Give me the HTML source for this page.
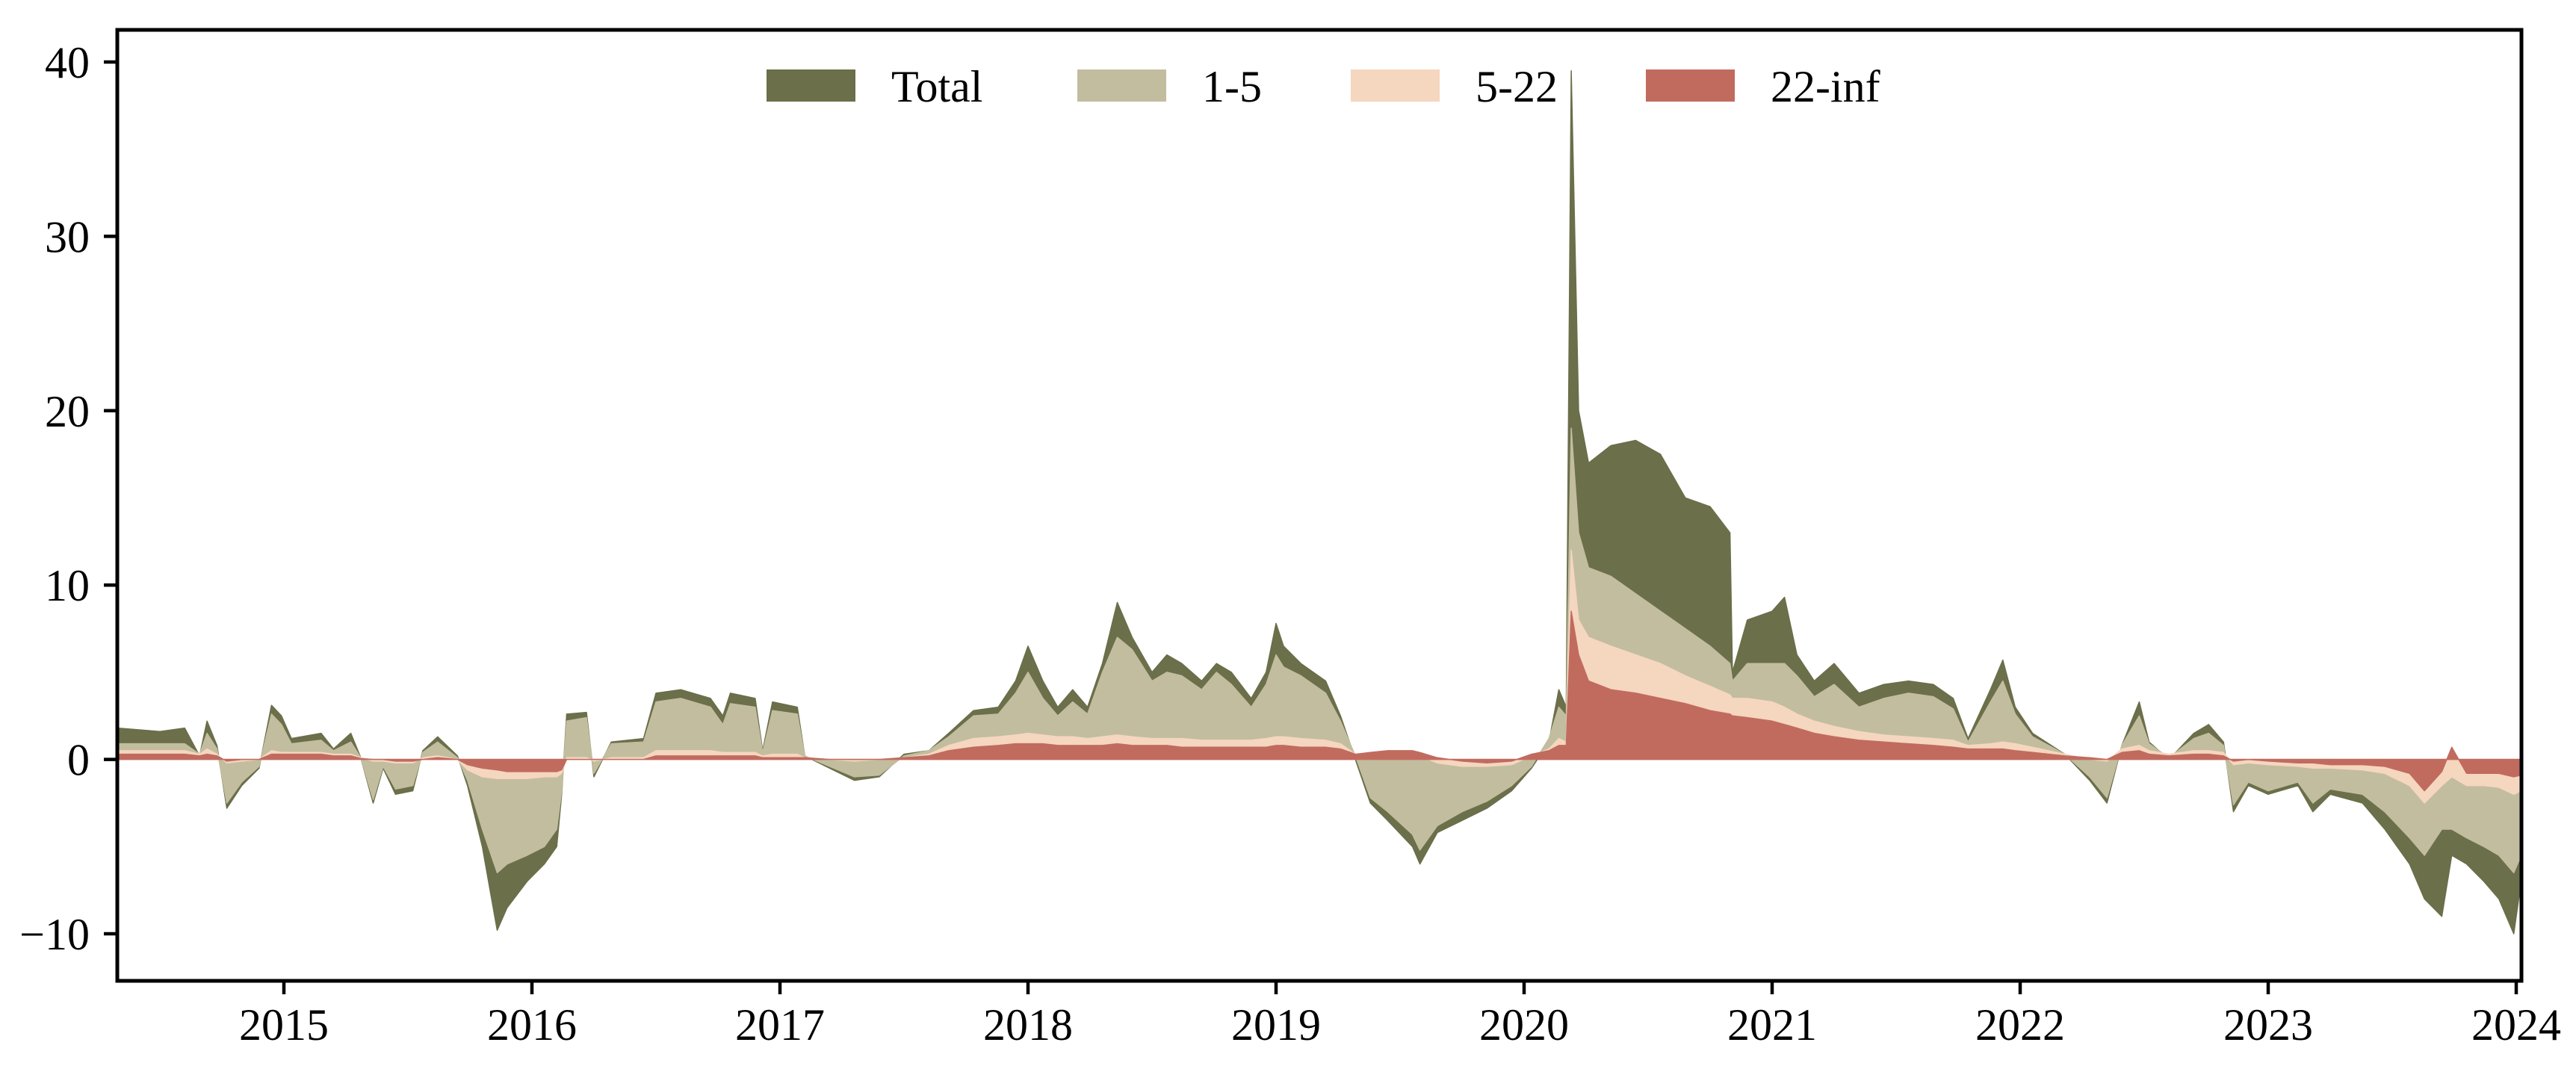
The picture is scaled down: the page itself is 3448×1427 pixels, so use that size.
<!DOCTYPE html>
<html><head><meta charset="utf-8"><style>
html,body{margin:0;padding:0;background:#fff;}
svg{display:block;}
text{font-family:"Liberation Serif",serif;fill:#000;}
</style></head>
<body>
<svg id="chart" width="3448" height="1427" viewBox="0 0 3448 1427" xmlns="http://www.w3.org/2000/svg">
<defs><clipPath id="plotclip"><rect x="157" y="40" width="3218" height="1273"/></clipPath></defs>
<rect x="0" y="0" width="3448" height="1427" fill="#fff"/>
<g id="areas" clip-path="url(#plotclip)"></g>
<g id="axes"></g>
<g id="legend"></g>
</svg>
<script>
const dates = [2014.33,2014.5,2014.6,2014.66,2014.69,2014.73,2014.77,2014.83,2014.9,2014.95,2014.99,2015.03,2015.15,2015.2,2015.27,2015.31,2015.36,2015.4,2015.45,2015.52,2015.56,2015.62,2015.7,2015.74,2015.8,2015.86,2015.9,2015.98,2016.05,2016.1,2016.12,2016.14,2016.22,2016.25,2016.32,2016.45,2016.5,2016.6,2016.72,2016.77,2016.8,2016.9,2016.93,2016.97,2017.07,2017.1,2017.2,2017.3,2017.4,2017.5,2017.6,2017.68,2017.78,2017.88,2017.95,2018.0,2018.06,2018.12,2018.18,2018.24,2018.3,2018.36,2018.42,2018.5,2018.56,2018.62,2018.7,2018.76,2018.82,2018.9,2018.96,2019.0,2019.03,2019.1,2019.2,2019.26,2019.32,2019.38,2019.45,2019.55,2019.58,2019.65,2019.75,2019.85,2019.95,2020.03,2020.1,2020.14,2020.17,2020.19,2020.22,2020.26,2020.35,2020.45,2020.55,2020.65,2020.75,2020.83,2020.84,2020.9,2021.0,2021.05,2021.1,2021.17,2021.25,2021.35,2021.45,2021.55,2021.65,2021.73,2021.79,2021.88,2021.93,2021.98,2022.05,2022.18,2022.28,2022.35,2022.41,2022.48,2022.52,2022.6,2022.7,2022.76,2022.82,2022.86,2022.92,2023.0,2023.12,2023.18,2023.25,2023.38,2023.47,2023.57,2023.63,2023.7,2023.74,2023.8,2023.87,2023.93,2023.99,2024.02];
const total = [1.8,1.6,1.8,0.2,2.2,0.8,-2.8,-1.5,-0.5,3.1,2.5,1.2,1.5,0.6,1.5,0.1,-2.5,-0.5,-2.0,-1.8,0.5,1.3,0.2,-1.5,-5,-9.8,-8.5,-7,-6,-5,-2,2.6,2.7,-1,1.0,1.2,3.8,4.0,3.5,2.5,3.8,3.5,0.5,3.3,3.0,0.2,-0.5,-1.2,-1.0,0.3,0.5,1.5,2.8,3.0,4.5,6.5,4.5,3.0,4.0,3.0,5.5,9.0,7.0,5.0,6.0,5.5,4.5,5.5,5.0,3.5,5.0,7.8,6.5,5.5,4.5,2.5,0,-2.5,-3.5,-5.0,-6,-4.2,-3.5,-2.8,-1.8,-0.5,1.0,4.0,3.0,39.5,20,17,18,18.3,17.5,15,14.5,13,5,8,8.5,9.3,6,4.5,5.5,3.8,4.3,4.5,4.3,3.5,1.2,4.0,5.7,3.0,1.5,0.3,-1.2,-2.5,0.8,3.3,1.0,0,1.5,2.0,1.0,-3,-1.5,-2.0,-1.5,-3,-2,-2.5,-4,-6,-8,-9,-5.5,-6,-7,-8,-10,-7];
const mat1to5 = [0.9,0.9,0.9,0.3,1.5,0.6,-2.5,-1.3,-0.4,2.6,2.0,0.9,1.1,0.5,1.0,0.1,-2.3,-0.4,-1.7,-1.5,0.4,1.0,0.1,-1.2,-4,-6.5,-6,-5.5,-5,-4,-1.8,2.2,2.4,-0.8,0.9,1.0,3.3,3.5,3.0,2.0,3.2,3.0,0.4,2.8,2.6,0.2,-0.4,-1.0,-0.9,0.2,0.5,1.3,2.5,2.6,3.8,5.0,3.5,2.5,3.3,2.6,5.0,7.0,6.3,4.5,5.0,4.8,4.0,5.0,4.3,3.0,4.3,6.0,5.3,4.8,3.8,2.2,0.2,-2.2,-3.0,-4.3,-5.2,-3.8,-3.0,-2.4,-1.5,-0.4,1.2,3.0,2.5,19,13,11,10.5,9.5,8.5,7.5,6.5,5.5,4.5,5.5,5.5,5.5,4.8,3.6,4.3,3.0,3.5,3.8,3.6,2.9,1.0,3.3,4.5,2.6,1.3,0.3,-1.0,-2.2,0.8,2.5,0.9,0.1,1.2,1.5,0.8,-2.6,-1.3,-1.8,-1.3,-2.5,-1.7,-2.0,-3.0,-4.5,-5.5,-4,-4,-4.5,-5.0,-5.5,-6.5,-5.5];
const mat5to22 = [0.5,0.5,0.5,0.3,0.6,0.3,-0.2,-0.1,0,0.5,0.4,0.4,0.4,0.3,0.3,0.1,-0.1,-0.1,-0.2,-0.2,0.1,0.2,0,-0.6,-1,-1.1,-1.1,-1.1,-1,-1,-0.8,0.1,0.1,-0.1,0.1,0.1,0.5,0.5,0.5,0.4,0.4,0.4,0.2,0.3,0.3,0.1,0,-0.1,0,0.1,0.3,0.8,1.2,1.3,1.4,1.5,1.4,1.3,1.3,1.2,1.3,1.4,1.3,1.2,1.2,1.2,1.1,1.1,1.1,1.1,1.2,1.3,1.3,1.2,1.1,0.9,0.3,0.2,0.3,0.3,0.2,-0.2,-0.4,-0.4,-0.3,0.2,0.6,1.2,1.0,12,8,7,6.5,6,5.5,4.8,4.2,3.7,3.5,3.5,3.3,3,2.6,2.2,1.9,1.6,1.4,1.3,1.2,1.1,0.8,0.9,1.0,0.9,0.7,0.3,0,-0.1,0.6,0.8,0.5,0.3,0.5,0.5,0.4,-0.3,-0.2,-0.3,-0.4,-0.5,-0.5,-0.6,-0.8,-1.5,-2.5,-1.5,-1.0,-1.5,-1.5,-1.6,-2.0,-1.8];
const mat22inf = [0.3,0.3,0.3,0.2,0.3,0.2,-0.1,0,0,0.3,0.3,0.3,0.3,0.2,0.2,0.05,0,0,-0.1,-0.1,0,0.1,0,-0.3,-0.5,-0.6,-0.7,-0.7,-0.7,-0.7,-0.6,0,0,0,0,0,0.2,0.2,0.2,0.2,0.2,0.2,0.1,0.1,0.1,0.1,0,0,0,0.1,0.2,0.5,0.7,0.8,0.9,0.9,0.9,0.8,0.8,0.8,0.8,0.9,0.8,0.8,0.8,0.7,0.7,0.7,0.7,0.7,0.7,0.8,0.8,0.7,0.7,0.6,0.3,0.4,0.5,0.5,0.4,0.1,-0.1,-0.2,-0.1,0.3,0.5,0.8,0.8,8.5,6,4.5,4,3.8,3.5,3.2,2.8,2.6,2.5,2.4,2.2,2,1.8,1.5,1.3,1.1,1.0,0.9,0.8,0.7,0.6,0.6,0.6,0.5,0.4,0.2,0.1,0,0.4,0.5,0.3,0.2,0.3,0.3,0.2,-0.1,0,-0.1,-0.2,-0.2,-0.3,-0.3,-0.4,-0.8,-1.8,-0.7,0.7,-0.8,-0.8,-0.8,-1.0,-0.9];
const seriesNames = ["Total","1-5","5-22","22-inf"];
const seriesColors = ["#6b6f4a","#c2bd9f","#f5d6bf","#c16b5f"];
const yTicks = [-10,0,10,20,30,40];
const yTickLabels = ["\u221210","0","10","20","30","40"];
const xTicks = [2015,2016,2017,2018,2019,2020,2021,2022,2023,2024];

const X0=157,X1=3375,Y0=40,Y1=1313;
function xs(t){return 380+(t-2015)*332;}
function ys(v){return 1016.6-v*23.34;}
const NS="http://www.w3.org/2000/svg";
function mk(tag,attrs,parent){const e=document.createElementNS(NS,tag);for(const k in attrs)e.setAttribute(k,attrs[k]);parent.appendChild(e);return e;}

const areas=document.getElementById('areas');
const layers=[total,mat1to5,mat5to22,mat22inf];
const layerNames=['area-total','area-1-5','area-5-22','area-22-inf'];
layers.forEach((vals,i)=>{
  let d='M'+xs(dates[0]).toFixed(1)+','+ys(0).toFixed(1);
  for(let j=0;j<dates.length;j++) d+=' L'+xs(dates[j]).toFixed(1)+','+ys(vals[j]).toFixed(1);
  d+=' L'+xs(dates[dates.length-1]).toFixed(1)+','+ys(0).toFixed(1)+' Z';
  const p=mk('path',{d:d,fill:seriesColors[i],stroke:seriesColors[i],'stroke-width':1.5,'stroke-linejoin':'round'},areas);
  
  
});

const axes=document.getElementById('axes');
const frame=mk('rect',{x:X0,y:Y0,width:X1-X0,height:Y1-Y0,fill:'none',stroke:'#000','stroke-width':5},axes);


yTicks.forEach((v,i)=>{
  const y=ys(v);
  const t=mk('line',{x1:X0-18,x2:X0,y1:y,y2:y,stroke:'#000','stroke-width':4.5},axes);
  
  
  const l=mk('text',{x:120,y:y+21,'text-anchor':'end','font-size':60},axes);
  l.textContent=yTickLabels[i];
  
  
});
xTicks.forEach(v=>{
  const x=xs(v);
  const t=mk('line',{x1:x,x2:x,y1:Y1,y2:Y1+18,stroke:'#000','stroke-width':4.5},axes);
  
  
  const l=mk('text',{x:x,y:1392,'text-anchor':'middle','font-size':60},axes);
  l.textContent=String(v);
  
  
});

const legend=document.getElementById('legend');
const legX=[1026,1442,1808,2203];
seriesNames.forEach((n,i)=>{
  const g=mk('g',{},legend);
  
  
  const r=mk('rect',{x:legX[i],y:93,width:119,height:43,fill:seriesColors[i]},g);
  
  
  const t=mk('text',{x:legX[i]+167,y:136,'font-size':60},g);
  t.textContent=n;
  
  
});
</script>
</body></html>
